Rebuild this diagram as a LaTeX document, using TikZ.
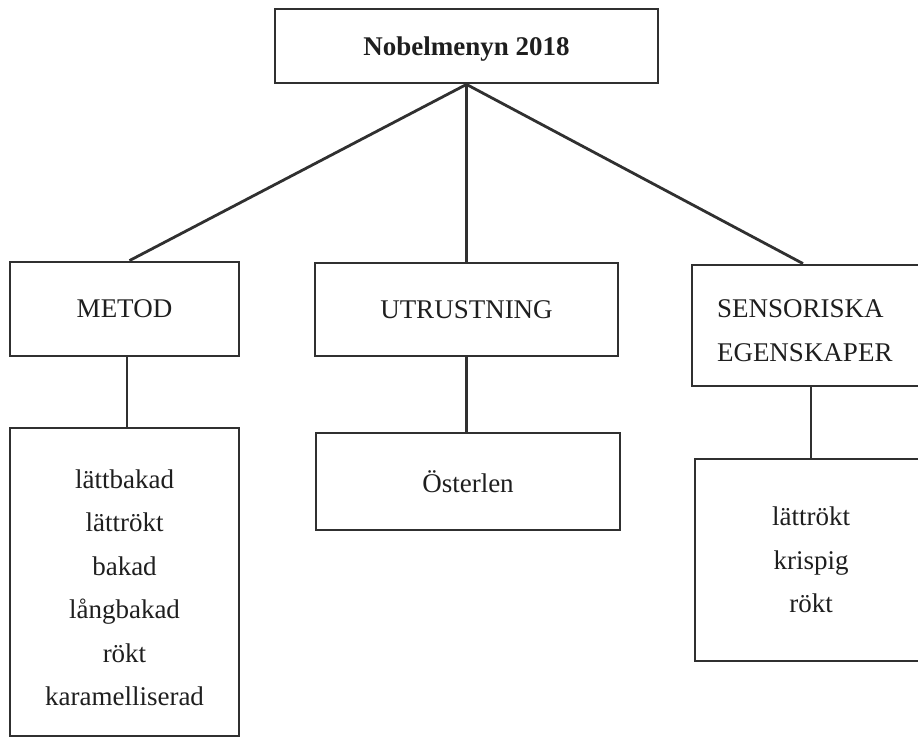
\documentclass[tikz,border=0pt]{standalone}
\usepackage{fontspec}
\setmainfont{Liberation Serif}
\definecolor{ink}{HTML}{1E1E1E}
\definecolor{edge}{HTML}{303030}

\begin{document}
\begin{tikzpicture}[x=1pt,y=-1pt,
    box/.style={draw=edge,line width=2.8pt,rectangle,inner sep=0pt,text=ink,
      font=\fontsize{27pt}{43.5pt}\selectfont,align=center},
    link/.style={draw=edge,line width=2.8pt}]
    \useasboundingbox (0,0) rectangle (918,738);
    \clip (0,0) rectangle (918,738);
    \node[box,minimum width=383pt,minimum height=74pt,text depth=0pt,
      font=\fontsize{27pt}{43.5pt}\selectfont\bfseries] (menu) at (466.5,46) {Nobelmenyn 2018};
    \node[box,minimum width=229pt,minimum height=94pt] (metod) at (124.5,309) {METOD};
    \node[box,minimum width=303pt,minimum height=93pt] (utrustning) at (466.5,309.5) {UTRUSTNING};
    \node[box,minimum height=121pt,text width=198pt,inner xsep=25pt,align=left] (sensorik) at (816,325.5)
      {\rule{0pt}{28pt}SENSORISKA\\EGENSKAPER};
    \node[box,minimum width=229pt,minimum height=308pt] (metodlista) at (124.5,582)
      {\rule{0pt}{30pt}lättbakad\\lättrökt\\bakad\\långbakad\\rökt\\karamelliserad};
    \node[box,minimum width=304pt,minimum height=97pt] (plats) at (468,481.5) {Österlen};
    \node[box,minimum width=232pt,minimum height=202pt] (sensoriklista) at (811,560)
      {lättrökt\\krispig\\rökt};
    \draw[link] (menu.south) -- ([xshift=5pt]metod.north);
    \draw[link] (menu.south) -- (utrustning.north);
    \draw[link] (menu.south) -- ([xshift=-13pt]sensorik.north);
    \draw[link] ([xshift=2.5pt]metod.south) -- ([xshift=2.5pt]metod.south |- metodlista.north);
    \draw[link] (utrustning.south) -- (utrustning.south |- plats.north);
    \draw[link] (sensorik.south -| sensoriklista.north) -- (sensoriklista.north);
  \end{tikzpicture}
\end{document}
